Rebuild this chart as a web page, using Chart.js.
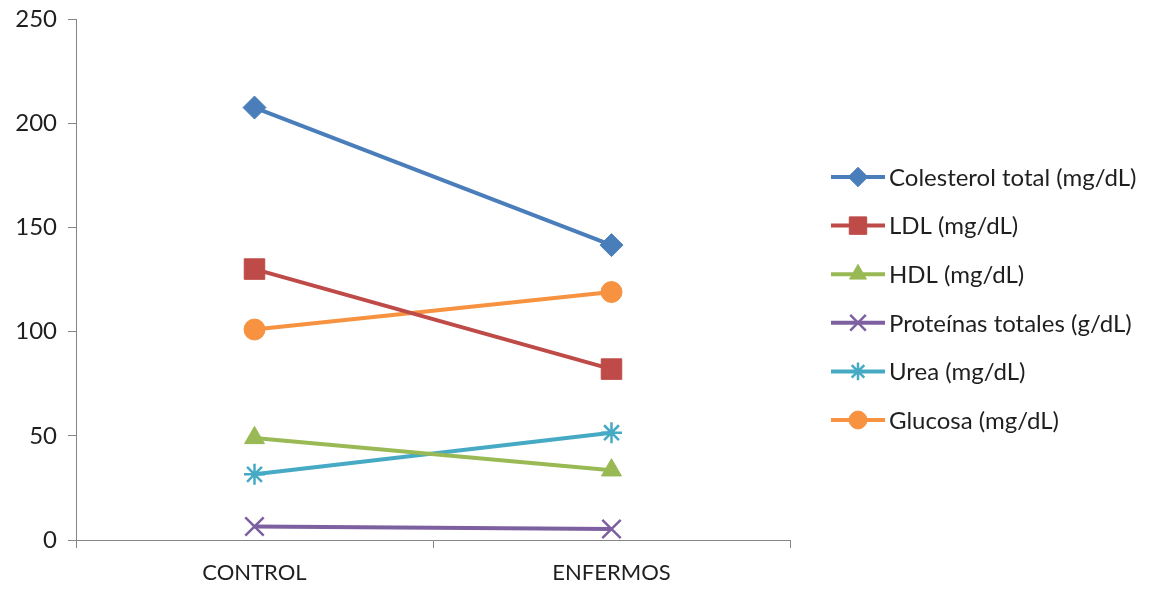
<!DOCTYPE html>
<html>
<head>
<meta charset="utf-8">
<script src="https://cdn.jsdelivr.net/npm/chart.js@4.4.0/dist/chart.umd.min.js"></script>
<style>
  html, body { margin: 0; padding: 0; background: #fff; }
  #wrap { width: 1158px; height: 589px; }
</style>
</head>
<body>
<div id="wrap"><canvas id="labChart" width="1158" height="589"></canvas></div>
<script>
// data
const categories = ['CONTROL', 'ENFERMOS'];
const seriesNames = [
    'Colesterol total (mg/dL)',
    'LDL (mg/dL)',
    'HDL (mg/dL)',
    'Proteínas totales (g/dL)',
    'Urea (mg/dL)',
    'Glucosa (mg/dL)'
];
const colesterol = [207.5, 141.5];
const ldl = [130, 82];
const hdl = [49, 33.5];
const proteinas = [6.5, 5.3];
const urea = [31.5, 51.5];
const glucosa = [101, 119];
const yTicks = [0, 50, 100, 150, 200, 250];

const colors = ['#4A7EBB', '#BE4B48', '#98B954', '#7D60A0', '#46AAC5', '#F69240'];
const markers = ['rectRot', 'rect', 'triangle', 'crossRot', 'star', 'circle'];
const sizes = [11.5, 14.5, 11.5, 13, 10.5, 10.5];
const values = [colesterol, ldl, hdl, proteinas, urea, glucosa];

const datasets = values.map(function (v, i) {
    const cross = markers[i] === 'crossRot' || markers[i] === 'star';
    return {
        label: seriesNames[i],
        data: v,
        borderColor: colors[i],
        backgroundColor: colors[i],
        borderWidth: 4,
        pointStyle: markers[i],
        pointRadius: sizes[i],
        pointHoverRadius: sizes[i],
        pointBackgroundColor: colors[i],
        pointBorderColor: colors[i],
        pointBorderWidth: cross ? 2.5 : 1,
        tension: 0
    };
});

// excel style legend: line with the marker in the middle
const sideLegend = {
    id: 'sideLegend',
    afterDraw(chart) {
        const ctx = chart.ctx;
        const x0 = 831, x1 = 885, tx = 889;
        const top = 177, step = 48.6;
        ctx.save();
        ctx.font = '24px Lato, "Open Sans", sans-serif';
        ctx.textBaseline = 'middle';
        ctx.textAlign = 'left';
        chart.data.datasets.forEach(function (ds, i) {
            const y = top + i * step;
            ctx.strokeStyle = ds.borderColor;
            ctx.lineWidth = 4;
            ctx.beginPath();
            ctx.moveTo(x0, y);
            ctx.lineTo(x1, y);
            ctx.stroke();
            ctx.fillStyle = ds.backgroundColor;
            ctx.lineWidth = ds.pointBorderWidth;
            Chart.helpers.drawPoint(ctx, {
                pointStyle: ds.pointStyle,
                radius: ds.pointRadius * 0.85,
                rotation: 0,
                borderWidth: ds.pointBorderWidth
            }, (x0 + x1) / 2, y);
            ctx.fillStyle = '#1f1f1f';
            ctx.fillText(ds.label, tx, y + 1);
        });
        ctx.restore();
    }
};

const ctx = document.getElementById('labChart').getContext('2d');
const labChart = new Chart(ctx, {
    type: 'line',
    data: {
        labels: categories,
        datasets: datasets
    },
    options: {
        responsive: false,
        animation: false,
        layout: {
            padding: { top: 19, right: 368, left: 0, bottom: 0 }
        },
        scales: {
            x: {
                offset: true,
                grid: {
                    drawOnChartArea: false,
                    drawTicks: true,
                    tickLength: 8,
                    offset: true,
                    color: '#868686'
                },
                border: { color: '#868686', width: 1 },
                ticks: {
                    color: '#1f1f1f',
                    font: { family: 'Lato, "Open Sans", sans-serif', size: 22 },
                    padding: 12
                },
                afterFit(scale) { scale.height = 49; }
            },
            y: {
                min: 0,
                max: 250,
                afterBuildTicks(scale) {
                    scale.ticks = yTicks.map(function (t) { return { value: t }; });
                },
                grid: {
                    drawOnChartArea: false,
                    drawTicks: true,
                    tickLength: 8,
                    color: '#868686'
                },
                border: { color: '#868686', width: 1 },
                ticks: {
                    color: '#1f1f1f',
                    font: { family: 'Lato, "Open Sans", sans-serif', size: 24 },
                    padding: 11
                },
                afterFit(scale) {
                    scale.width = 76;
                    scale.paddingTop = 0;
                    scale.paddingBottom = 0;
                }
            }
        },
        plugins: {
            legend: { display: false },
            tooltip: { enabled: false }
        }
    },
    plugins: [sideLegend]
});
</script>
</body>
</html>
